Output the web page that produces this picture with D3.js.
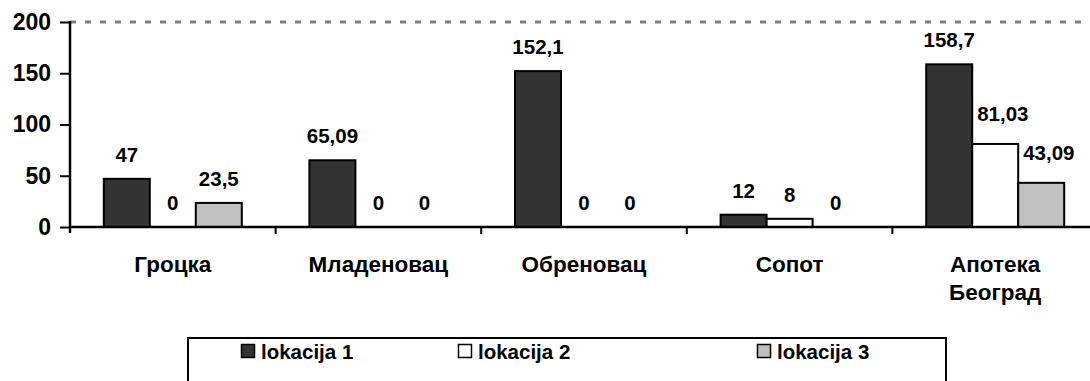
<!DOCTYPE html>
<html>
<head>
<meta charset="utf-8">
<script src="https://cdn.jsdelivr.net/npm/d3@7"></script>
<style>
  html, body { margin: 0; padding: 0; background: #fff; }
  svg { display: block; font-family: "Liberation Sans", Arial, sans-serif; font-weight: bold; }
</style>
</head>
<body>
<svg id="chart" width="1090" height="381"></svg>
<script>
// Municipalities (second line of a label after "\n")
const categories = ["Гроцка", "Младеновац", "Обреновац", "Сопот", "Апотека\nБеоград"];
const seriesNames = ["lokacija 1", "lokacija 2", "lokacija 3"];
const lokacija1 = [47, 65.09, 152.1, 12, 158.7];
const lokacija2 = [0, 0, 0, 8, 81.03];
const lokacija3 = [23.5, 0, 0, 0, 43.09];
const yTicks = [0, 50, 100, 150, 200];

const seriesValues = [lokacija1, lokacija2, lokacija3];
const seriesColors = ["#333333", "#ffffff", "#c0c0c0"];

const svg = d3.select("#chart");

const plotLeft = 70, plotRight = 1098, plotTop = 22, plotBottom = 227;

const y = d3.scaleLinear().domain([0, 200]).range([plotBottom, plotTop]);
const x0 = d3.scaleBand().domain(categories).range([plotLeft, plotRight]).paddingInner(0).paddingOuter(0);
const x1 = d3.scaleBand().domain(seriesNames).range([0, x0.bandwidth()]).paddingInner(0).paddingOuter(0.735);

const fmt = v => String(v).replace(".", ",");

// dashed gridline at the top of the scale
svg.append("line")
  .attr("x1", plotLeft).attr("x2", 1090)
  .attr("y1", y(200)).attr("y2", y(200))
  .attr("stroke", "#808080").attr("stroke-width", 3)
  .attr("stroke-dasharray", "6,9");

// bars
const groups = svg.append("g").selectAll("g")
  .data(categories)
  .join("g")
  .attr("transform", d => `translate(${x0(d)},0)`);

groups.selectAll("rect")
  .data((d, i) => seriesNames.map((s, j) => ({ s, v: seriesValues[j][i], c: seriesColors[j] })))
  .join("rect")
  .attr("x", d => x1(d.s))
  .attr("width", x1.bandwidth())
  .attr("y", d => y(d.v))
  .attr("height", d => y(0) - y(d.v))
  .attr("fill", d => d.c)
  .attr("stroke", "#000")
  .attr("stroke-width", 2);

// value labels; a label that would run into the taller bar on its left is pushed right
groups.selectAll("text.val")
  .data((d, i) => seriesNames.map((s, j) => ({ s, j, v: seriesValues[j][i], prev: j > 0 ? seriesValues[j - 1][i] : null })))
  .join("text")
  .attr("class", "val")
  .attr("x", d => x1(d.s) + x1.bandwidth() / 2)
  .attr("y", d => y(d.v) - 17)
  .attr("text-anchor", "middle")
  .attr("font-size", 20.5)
  .attr("fill", "#000")
  .text(d => fmt(d.v))
  .each(function (d) {
    if (d.prev === null) return;
    const w = this.getComputedTextLength();
    const cx = x1(d.s) + x1.bandwidth() / 2;
    const baseline = y(d.v) - 17;
    const leftEdge = x1(d.s);
    if (y(d.prev) < baseline && cx - w / 2 < leftEdge + 3) {
      d3.select(this).attr("x", leftEdge + 5 + w / 2).attr("y", baseline - 6);
    }
  });

// y axis
const yAxis = d3.axisLeft(y).tickValues(yTicks).tickSize(10).tickPadding(9).tickFormat(d3.format("d"));
const gy = svg.append("g").attr("transform", `translate(${plotLeft},0)`).call(yAxis);
gy.select(".domain").attr("d", `M0,${plotTop - 1}V${plotBottom + 6}`).attr("stroke", "#000").attr("stroke-width", 2.5);
gy.selectAll(".tick line").attr("stroke", "#000").attr("stroke-width", 2);
gy.selectAll(".tick text")
  .attr("font-size", 23).attr("font-family", "Liberation Sans, Arial, sans-serif")
  .attr("font-weight", "bold").attr("fill", "#000");

// x axis line and category separators
svg.append("line")
  .attr("x1", plotLeft).attr("x2", 1090)
  .attr("y1", plotBottom).attr("y2", plotBottom)
  .attr("stroke", "#000").attr("stroke-width", 2.5);

svg.append("g").selectAll("line")
  .data(categories.slice(1))
  .join("line")
  .attr("x1", d => x0(d)).attr("x2", d => x0(d))
  .attr("y1", plotBottom).attr("y2", plotBottom + 7)
  .attr("stroke", "#000").attr("stroke-width", 2);

// category labels
const catText = svg.append("g").selectAll("text")
  .data(categories)
  .join("text")
  .attr("x", d => x0(d) + x0.bandwidth() / 2)
  .attr("y", 272)
  .attr("text-anchor", "middle")
  .attr("font-size", 22.5)
  .attr("fill", "#000");
catText.selectAll("tspan")
  .data(d => d.split("\n"))
  .join("tspan")
  .attr("x", function () { return d3.select(this.parentNode).attr("x"); })
  .attr("dy", (d, i) => i === 0 ? 0 : 28)
  .text(d => d);

// legend
const legend = svg.append("g");
legend.append("rect")
  .attr("x", 188).attr("y", 338)
  .attr("width", 758).attr("height", 60)
  .attr("fill", "#fff").attr("stroke", "#000").attr("stroke-width", 2);

const legendX = [241, 458, 757];
const items = legend.selectAll("g.item")
  .data(seriesNames)
  .join("g")
  .attr("class", "item")
  .attr("transform", (d, i) => `translate(${legendX[i]},344)`);
items.append("rect")
  .attr("x", 0.5).attr("y", 0.5)
  .attr("width", 13).attr("height", 13)
  .attr("fill", (d, i) => seriesColors[i])
  .attr("stroke", "#000").attr("stroke-width", 1.5);
items.append("text")
  .attr("x", 20).attr("y", 15)
  .attr("font-size", 20.5)
  .attr("fill", "#000")
  .text(d => d);
</script>
</body>
</html>
